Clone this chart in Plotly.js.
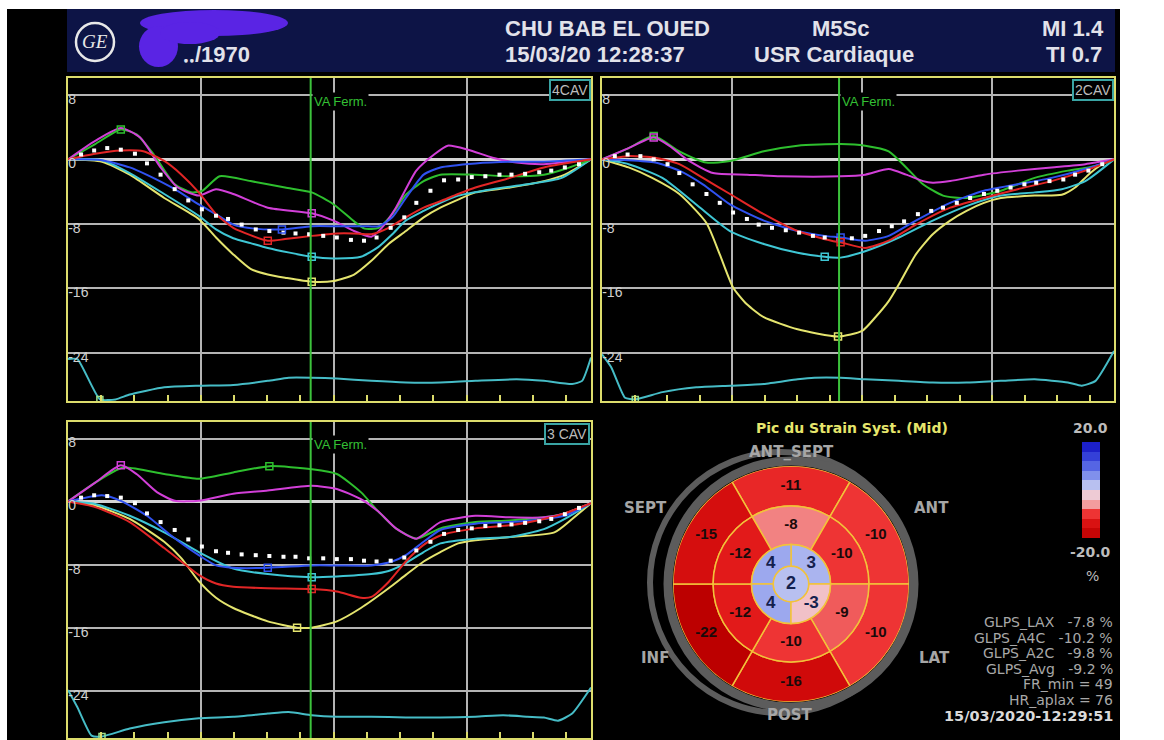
<!DOCTYPE html>
<html><head><meta charset="utf-8">
<script src="https://cdn.plot.ly/plotly-3.0.1.min.js"></script>
<style>html,body{margin:0;padding:0;background:#fff;}#chart{width:1164px;height:740px;}</style>
</head><body><div id="chart"></div>
<script>
// ---------------- DATA ----------------
// time axis in % of the cardiac cycle, strain in %
const segmentNames = ['yellow','cyan','green','magenta','blue','red'];

// 4 CAV
const a4c_yellow = [[0,0],[6.5,-0.3],[11.8,-1.9],[18.4,-4.8],[25,-7.4],[28.3,-9.7],[31.6,-11.8],[34.9,-13.6],[38.2,-14.3],[41.5,-14.7],[46.6,-15.2],[50.8,-15.1],[54.7,-14.3],[58,-12.6],[61.3,-10.5],[64.6,-8.9],[68,-7.2],[71.2,-6],[74.6,-5],[77.9,-4.1],[84.5,-3.5],[91,-2.7],[95,-1.9],[100,0]];
const a4c_cyan = [[0,0],[6.5,-0.1],[11.8,-1.7],[18.4,-4.3],[25,-7],[28.3,-8.7],[31.6,-9.8],[34.9,-10.4],[38.2,-11],[46.6,-12.1],[50.8,-12.3],[56,-12.1],[59.3,-10.9],[62,-9.3],[64.6,-7.6],[68,-6.4],[71.2,-5.4],[74.6,-4.5],[81.2,-3.7],[87.8,-3.1],[94.4,-2.3],[100,0]];
const a4c_green = [[0,0],[5.2,1.9],[10.1,3.7],[13.1,3.1],[16.4,0.6],[20.4,-3.1],[23.7,-4.1],[25.7,-3.9],[29,-2.1],[34.9,-2.7],[41.5,-3.5],[46.6,-4.1],[50.8,-5.6],[54.7,-7.7],[56.7,-8.6],[59.4,-8.5],[62,-6.8],[64.6,-4.4],[68,-2.7],[71.2,-1.9],[77.9,-1.9],[84.5,-2.1],[91,-1.9],[95,-1.2],[100,0]];
const a4c_magenta = [[0,0],[5.2,2.3],[10.1,3.9],[13.8,2.7],[17.7,-1],[21,-3.5],[25,-4.5],[28.3,-3.7],[31.6,-4.3],[38.2,-6],[46.6,-6.7],[50.8,-7.6],[54.7,-8.9],[58,-9.6],[60,-8.5],[62.7,-6],[66.6,-1.4],[70,0.6],[72.6,1.7],[76.5,1.2],[81.2,0.2],[85.8,-0.4],[91,-0.6],[100,0]];
const a4c_blue = [[0,0],[6.5,-0.1],[11.8,-1],[15,-1.9],[20.4,-3.7],[25,-5.6],[28.3,-6.8],[31.6,-8.1],[35.6,-8.6],[40.9,-8.7],[46.6,-8.3],[51.4,-8.3],[56.7,-8.3],[59.4,-8.3],[62,-7.2],[64.6,-4.8],[68,-1.9],[71.2,-1],[77.9,-0.5],[84.5,-0.3],[91,-0.3],[100,0]];
const a4c_red = [[0,0],[5.2,0.7],[10.1,1.1],[14.4,1],[18.4,-0.2],[21.7,-1.9],[25,-4.1],[28.3,-6.8],[31.6,-8.5],[38.2,-10.1],[41.5,-9.9],[46.6,-9.5],[51.4,-9.2],[54.7,-9.2],[58,-9.3],[61.3,-8.5],[64.6,-7.2],[68,-6],[71.2,-5.2],[74.6,-4.3],[77.9,-3.5],[84.5,-2.3],[91,-1],[100,0]];
const a4c_trace = [[0,-24.8],[1.8,-24.8],[6.1,-29.8],[9.1,-29.8],[11.8,-29.2],[18.4,-28.3],[25,-28.1],[31.6,-28],[38.2,-27.5],[42.2,-27.1],[46.6,-27.1],[51.4,-27.2],[58,-27.5],[64.6,-27.7],[71.2,-27.7],[77.9,-27.5],[85.8,-27.3],[91,-27.5],[96.4,-27.9],[98.3,-27.5],[100,-24.6]];
const a4c_avg = [0.6,1.1,1.4,1.2,0.7,-0.5,-1.9,-3.7,-5.1,-6.2,-7,-7.4,-8.1,-8.7,-8.9,-9.1,-9.2,-9.3,-9.5,-9.7,-10,-10.1,-9.7,-8.5,-7.2,-5.4,-3.9,-2.6,-2.5,-2.2,-2.1,-1.9,-1.9,-1.8,-1.6,-1.4,-1.0,-0.6];
const a4c_peakX = [46.6,46.6,10.1,46.6,40.9,38.2];
const a4c_peakY = [-15.2,-12.1,3.7,-6.7,-8.7,-10.1];

// 2 CAV
const a2c_yellow = [[0,0],[5.2,-1],[9.8,-2.3],[15.1,-4.3],[20.4,-7.9],[23,-11.8],[25.6,-15.9],[28.3,-18],[31.6,-19.6],[38.2,-21.1],[46.1,-22],[50.8,-21.3],[53.4,-19.6],[56,-17.6],[58,-15.5],[61.3,-11.8],[64.6,-9.3],[68,-7.6],[71.2,-6.4],[74.6,-5.4],[77.9,-4.8],[84.5,-4.5],[89.8,-4.4],[92.4,-3.5],[95,-1.9],[97.7,-0.6],[100,0]];
const a2c_cyan = [[0,0],[5.2,-0.6],[11.8,-2.3],[18.4,-5.6],[25,-8.9],[31.6,-10.5],[38.2,-11.6],[43.5,-12.1],[46.6,-12.2],[51.4,-11.4],[58,-9.7],[64.6,-7.6],[71.2,-5.8],[77.9,-4.5],[84.5,-4.1],[89.8,-3.7],[94.4,-2.7],[100,0]];
const a2c_green = [[0,0],[5.2,1.4],[10.1,2.9],[15.1,1],[20.4,-0.4],[25,-0.2],[31.6,1],[38.2,1.7],[46.6,1.9],[51.4,1.7],[56,1],[59.4,-1],[62.7,-3.1],[66.6,-4.5],[71.2,-4.8],[77.9,-3.9],[84.5,-2.3],[91,-1.4],[95,-1],[97.7,-0.6],[100,0]];
const a2c_magenta = [[0,0],[5.2,1.4],[10.1,2.7],[13.1,1.7],[17,-0.2],[21.7,-1.7],[28.3,-1.9],[34.9,-2.1],[46.6,-2.1],[51.4,-1.9],[56,-1.2],[59.4,-1.9],[62.7,-2.7],[64.6,-2.9],[68,-2.7],[74.6,-1.9],[81.2,-1.4],[87.8,-1],[94.4,-0.6],[100,0]];
const a2c_blue = [[0,0],[5.2,-0.1],[10.4,-0.4],[15.1,-1.4],[19.7,-3.1],[25,-5.6],[31.6,-7.6],[38.2,-8.9],[43.5,-9.5],[46.6,-9.7],[51.4,-10.1],[56,-9.5],[61.3,-7.6],[68,-5.4],[74.6,-3.9],[81.2,-3.1],[87.8,-2.3],[94.4,-1.2],[100,0]];
const a2c_red = [[0,0],[5.2,0.4],[10.4,0.2],[15.1,-0.6],[19.7,-2.3],[25,-4.3],[31.6,-6.8],[38.2,-8.9],[44.8,-10.1],[46.6,-10.3],[51.4,-11],[56,-10.1],[61.3,-8.1],[68,-6],[74.6,-4.8],[81.2,-3.7],[87.8,-2.7],[94.4,-1.4],[100,0]];
const a2c_trace = [[0,-24.2],[1.8,-25.8],[4.5,-29.6],[6.5,-29.8],[11.8,-28.9],[18.4,-28.3],[25,-28.1],[31.6,-27.9],[38.2,-27.3],[41.5,-27.1],[46.6,-27.1],[51.4,-27.3],[58,-27.5],[64.6,-27.7],[71.2,-27.7],[77.9,-27.5],[84.5,-27.3],[91,-27.7],[93.7,-28.1],[96.4,-27.5],[100,-23.8]];
const a2c_avg = [0.4,0.6,0.4,0,-0.6,-1.7,-3.1,-4.3,-5.4,-6.6,-7.4,-8.1,-8.5,-8.8,-9.1,-9.5,-9.7,-9.9,-9.8,-9.5,-8.9,-8.3,-7.7,-6.8,-6.4,-6,-5.4,-4.8,-4.3,-3.9,-3.5,-3.1,-2.9,-2.7,-2.5,-1.9,-1.4,-0.6];
const a2c_peakX = [46.1,43.5,10.1,10.1,46.6,46.6];
const a2c_peakY = [-22,-12.1,2.9,2.7,-9.7,-10.3];

// 3 CAV
const a3c_yellow = [[0,0],[5.2,-0.5],[11.8,-2.2],[18.4,-5.1],[21.7,-7.2],[25,-10.1],[28.3,-12.2],[31.6,-13.5],[38.2,-15.2],[43.8,-16],[46.6,-16],[51.4,-15.2],[56,-13.5],[61.3,-11],[64.6,-9.3],[68,-7.6],[71.2,-6.4],[74.6,-5.3],[77.9,-4.9],[84.5,-4.5],[93,-3.9],[96.4,-2.2],[100,-0.2]];
const a3c_cyan = [[0,0],[5.2,-0.3],[11.8,-1.8],[18.4,-3.9],[25,-6.4],[31.6,-8.5],[38.2,-9.2],[46.6,-9.6],[51.4,-9.5],[58,-9.2],[61.3,-8.8],[64.6,-7.8],[68,-6.4],[71.2,-5.3],[77.9,-4.7],[84.5,-4.5],[91,-3.5],[95,-2.2],[100,-0.2]];
const a3c_green = [[0,0],[5.2,2.4],[10.4,4.3],[18.4,3.5],[25,2.9],[31.6,3.7],[38.5,4.5],[46.6,4.1],[51.4,3.5],[56,1.2],[59.4,-1.3],[62.7,-3.4],[66.6,-4.7],[71.2,-3.4],[77.9,-2.6],[84.5,-2.4],[91,-2],[95,-1.5],[100,-0.2]];
const a3c_magenta = [[0,0],[5.2,2.4],[10.1,4.6],[13.1,3.5],[17,1.2],[20.4,0.1],[25,0.1],[31.6,1],[38.2,1.4],[46.6,2],[51.4,1.6],[56,0.3],[59.4,-1.3],[62.7,-3.4],[66.6,-4.7],[71.2,-2.6],[77.9,-1.8],[84.5,-2],[91,-2],[95,-1.5],[100,-0.2]];
const a3c_blue = [[0,0],[6.5,0.8],[10.1,0.1],[15.1,-1.8],[19.7,-4.3],[25,-6.8],[28.3,-8.1],[31.6,-8.4],[38.2,-8.4],[46.6,-8.1],[51.4,-8.1],[58,-8.1],[62,-7.6],[64.6,-6.8],[68,-5.1],[71.2,-3.6],[77.9,-2.8],[84.5,-2.6],[91,-2.2],[95,-1.8],[100,-0.2]];
const a3c_red = [[0,0],[5.2,-0.7],[11.8,-2.6],[18.4,-5.9],[25,-9.3],[28.3,-10.4],[31.6,-10.8],[38.2,-11],[46.6,-11.1],[51.4,-11.4],[56,-12.2],[58,-12.1],[61.3,-10.2],[64.6,-7.6],[68,-5.5],[71.2,-4.3],[77.9,-3.4],[84.5,-3],[91,-2.2],[95,-1.5],[100,-0.2]];
const a3c_trace = [[0,-23.9],[1.8,-26.1],[4.5,-29.7],[6.5,-29.8],[11.8,-28.8],[18.4,-28],[25,-27.5],[31.6,-27.3],[38.2,-26.9],[42.2,-26.7],[46.6,-27.1],[51.4,-27.3],[58,-27.3],[64.6,-27.4],[71.2,-27.4],[77.9,-27.3],[83.2,-27.1],[87.8,-27.3],[91,-27.4],[93.7,-27.8],[96.4,-26.9],[100,-23.6]];
const a3c_avg = [0.5,0.8,0.7,0.5,-0.2,-1.5,-2.6,-3.6,-4.8,-5.7,-6.3,-6.5,-6.7,-6.8,-6.9,-7,-7,-7.2,-7.2,-7.3,-7.3,-7.5,-7.6,-7.5,-7.1,-6.2,-5.1,-4.1,-3.6,-3.4,-3.1,-3,-2.9,-2.7,-2.5,-2.2,-1.6,-0.8];
const a3c_peakX = [43.8,46.6,38.5,10.1,38.2,46.6];
const a3c_peakY = [-16,-9.6,4.5,4.6,-8.4,-11.1];

const avgX = [2.5,5,7.5,10.1,12.8,15.1,17.7,20.4,23,25.6,28.3,30.6,33.2,35.9,38.5,41.2,43.5,46.1,48.8,51.4,54.1,56.6,59,61.7,64.3,66.6,69.3,71.9,74.6,77.2,79.8,82.5,84.8,87.4,90.1,92.4,95,97.7];
const traceMinX = [6.1,6.5,6.5];
const traceMinY = [-29.8,-29.8,-29.8];
const vaFermeture = [46.4,46.3,46.4];
const strainTickVals = [-24,-16,-8,0,8];
const strainTickText = ['-24','-16','-8','0','8'];
const viewNames = ['4CAV','2CAV','3 CAV'];

// Bull's eye (peak systolic strain, %)
const sixTheta = [90,30,330,270,210,150];   // ANT_SEPT, ANT, LAT, POST, INF, SEPT
const basalStrain = [-11,-10,-10,-16,-22,-15];
const midStrain = [-8,-10,-9,-10,-12,-12];
const apicalTheta = [45,135,225,315];
const apicalStrain = [3,4,4,-3];
const apexStrain = [2];
const ringEdges = [0,0.15,0.335,0.66,1];
const scaleSteps = [-18,-14,-10,-6,-2,2,6,10,14,18];

const glpsLabels = ['GLPS_LAX','GLPS_A4C','GLPS_A2C','GLPS_Avg'];
const glpsValues = [-7.8,-10.2,-9.8,-9.2];
const frMin = 49, hrAplax = 76;

// ---------------- STYLE ----------------
const W=1164,H=740;
const PX=x=>x/W, PY=y=>1-y/H;
const segColors = ['#e4e46e','#3fc6d4','#2ebf2e','#d23fd8','#3052f0','#e22626'];
const YEL='#dcdc6c', GRID='#b4b4b4';
const SANS='Liberation Sans, Arial, sans-serif';
const STRAIN_SCALE=[[0,'#bc0000'],[0.1,'#d00a0a'],[0.2,'#e21a1a'],[0.25,'#ee3434'],[0.3,'#f28282'],[0.4,'#f4b6ba'],[0.5,'#e8e0f0'],[0.55,'#b8c0f0'],[0.65,'#8090ec'],[0.8,'#4050e0'],[1,'#1010c0']];

const traces=[];
function panel(series, trace, avgY, peakX, peakY, k, xa, ya){
  traces.push({type:'scatter',mode:'lines',x:trace.map(p=>p[0]),y:trace.map(p=>p[1]),xaxis:xa,yaxis:ya,
    line:{color:'#46bcc6',width:2,shape:'spline',smoothing:0.5},hoverinfo:'skip'});
  traces.push({type:'scatter',mode:'markers',x:[traceMinX[k]],y:[traceMinY[k]],xaxis:xa,yaxis:ya,
    marker:{symbol:'square-open',size:6,color:'#9be08a',line:{width:1.5}},hoverinfo:'skip'});
  series.forEach((s,i)=>traces.push({type:'scatter',mode:'lines',name:segmentNames[i],x:s.map(p=>p[0]),y:s.map(p=>p[1]),
    xaxis:xa,yaxis:ya,line:{color:segColors[i],width:2,shape:'spline',smoothing:0.6},hoverinfo:'skip'}));
  traces.push({type:'scatter',mode:'markers',x:avgX,y:avgY,xaxis:xa,yaxis:ya,
    marker:{symbol:'square',size:4,color:'#ffffff'},hoverinfo:'skip'});
  traces.push({type:'scatter',mode:'markers',x:peakX,y:peakY,xaxis:xa,yaxis:ya,
    marker:{symbol:'square-open',size:7,color:segColors,line:{width:1.5}},hoverinfo:'skip'});
}
panel([a4c_yellow,a4c_cyan,a4c_green,a4c_magenta,a4c_blue,a4c_red],a4c_trace,a4c_avg,a4c_peakX,a4c_peakY,0,'x','y');
panel([a2c_yellow,a2c_cyan,a2c_green,a2c_magenta,a2c_blue,a2c_red],a2c_trace,a2c_avg,a2c_peakX,a2c_peakY,1,'x2','y2');
panel([a3c_yellow,a3c_cyan,a3c_green,a3c_magenta,a3c_blue,a3c_red],a3c_trace,a3c_avg,a3c_peakX,a3c_peakY,2,'x3','y3');

// bull's eye rings
const segLine={color:'#f2c23a',width:1.5};
function ring(theta, vals, inner, outer, w){
  traces.push({type:'barpolar',subplot:'polar',theta:theta,base:theta.map(()=>inner),r:theta.map(()=>outer-inner),
    width:theta.map(()=>w),marker:{color:vals,colorscale:STRAIN_SCALE,cmin:-20,cmax:20,line:segLine},hoverinfo:'skip'});
}
ring(sixTheta,basalStrain,ringEdges[3],ringEdges[4],60);
ring(sixTheta,midStrain,ringEdges[2],ringEdges[3],60);
ring(apicalTheta,apicalStrain,ringEdges[1],ringEdges[2],90);
ring([0],apexStrain,ringEdges[0],ringEdges[1],360);
function ringText(theta, vals, inner, outer, color, size){
  traces.push({type:'scatterpolar',subplot:'polar',mode:'text',theta:theta,r:theta.map(()=>(inner+outer)/2),
    text:vals.map(String),textfont:{color:color,size:size,family:SANS,weight:'bold'},hoverinfo:'skip'});
}
ringText(sixTheta,basalStrain,ringEdges[3],ringEdges[4],'#1a0a0a',15);
ringText(sixTheta,midStrain,ringEdges[2],ringEdges[3],'#1a0a0a',15);
ringText(apicalTheta,apicalStrain,ringEdges[1],ringEdges[2],'#14204e',17);
traces.push({type:'scatterpolar',subplot:'polar',mode:'text',theta:[0],r:[0],text:apexStrain.map(String),
  textfont:{color:'#14204e',size:18,family:SANS,weight:'bold'},hoverinfo:'skip'});

// colour scale bar
traces.push({type:'heatmap',x:[0],y:scaleSteps.map((v,i)=>i),z:scaleSteps.map(v=>[v]),xaxis:'x4',yaxis:'y4',
  colorscale:STRAIN_SCALE,zmin:-20,zmax:20,showscale:false,hoverinfo:'skip'});

// ---------------- LAYOUT ----------------
function xAx(x0,x1,anchor){return {domain:[PX(x0),PX(x1)],anchor:anchor,range:[0,100],showline:true,linecolor:YEL,linewidth:2,mirror:true,
  tickmode:'array',tickvals:[25.4,50.8,76.2],ticks:'inside',ticklen:6,tickwidth:2,tickcolor:YEL,showticklabels:false,
  showgrid:true,gridcolor:GRID,gridwidth:2,zeroline:false,fixedrange:true,
  minor:{tickmode:'linear',tick0:0,dtick:6.35,ticks:'inside',ticklen:6,tickwidth:2,tickcolor:YEL,showgrid:false}};}
function yAx(y0,y1,anchor){return {domain:[PY(y1),PY(y0)],anchor:anchor,range:[-30,10.1],showline:true,linecolor:YEL,linewidth:2,mirror:true,
  tickmode:'array',tickvals:strainTickVals,ticktext:strainTickText,ticks:'',ticklabelposition:'inside',ticklabelshift:4,
  tickfont:{color:'#d0d0d0',size:14,family:SANS},showgrid:true,gridcolor:GRID,gridwidth:2,
  zeroline:true,zerolinecolor:'#d4d4d4',zerolinewidth:3,fixedrange:true};}

const shapes=[
  {type:'rect',xref:'paper',yref:'paper',x0:PX(7),x1:PX(1120),y0:0,y1:PY(9),fillcolor:'#000',line:{width:0},layer:'below'},
  {type:'rect',xref:'paper',yref:'paper',x0:PX(67),x1:PX(1115),y0:PY(72),y1:PY(9),fillcolor:'#0d1446',line:{width:0},layer:'below'},
  {type:'circle',xref:'paper',yref:'paper',x0:PX(76),x1:PX(114),y0:PY(61),y1:PY(23),line:{color:'#e8e8e8',width:2.5}},
  {type:'circle',xref:'paper',yref:'paper',x0:PX(140),x1:PX(288),y0:PY(36),y1:PY(10),fillcolor:'#5a24e4',line:{width:0}},
  {type:'circle',xref:'paper',yref:'paper',x0:PX(139),x1:PX(178),y0:PY(67),y1:PY(26),fillcolor:'#5a24e4',line:{width:0}},
  {type:'circle',xref:'paper',yref:'paper',x0:PX(160),x1:PX(220),y0:PY(44),y1:PY(22),fillcolor:'#5a24e4',line:{width:0}},
  // grey rim of the bull's eye
  {type:'circle',xref:'paper',yref:'paper',x0:PX(650),x1:PX(912),y0:PY(713),y1:PY(452),line:{color:'#5c5c5c',width:6},layer:'below'},
  {type:'circle',xref:'paper',yref:'paper',x0:PX(668),x1:PX(914),y0:PY(707),y1:PY(461),line:{color:'#5c5c5c',width:9},layer:'below'}
];
[['x','y'],['x2','y2'],['x3','y3']].forEach(([xa,ya],k)=>{
  shapes.push({type:'line',xref:xa,yref:ya+' domain',x0:vaFermeture[k],x1:vaFermeture[k],y0:0,y1:1,
    line:{color:'#3cc23c',width:2}});
});

const annotations=[];
function ann(x,y,text,o){annotations.push(Object.assign({xref:'paper',yref:'paper',x:PX(x),y:PY(y),text:text,showarrow:false,
  xanchor:'left',yanchor:'middle'},o||{}));}
const hdr={font:{color:'#e2e2ea',size:22,family:SANS,weight:'bold'}};
ann(503,28,'CHU BAB EL OUED',hdr);
ann(503,54,'15/03/20 12:28:37',hdr);
ann(810,28,'M5Sc',hdr);
ann(752,54,'USR Cardiaque',hdr);
ann(1106,28,'MI 1.4',Object.assign({xanchor:'right'},hdr));
ann(1104,54,'TI 0.7',Object.assign({xanchor:'right'},hdr));
ann(252,54,'‥/1970',Object.assign({xanchor:'right'},hdr));
ann(95,42,'<i>GE</i>',{xanchor:'center',font:{color:'#e8e8e8',size:19,family:'Liberation Serif, serif'}});

// panel labels
[[591,79],[1114,79],[590,423]].forEach((p,i)=>ann(p[0],p[1],viewNames[i],{xanchor:'right',yanchor:'top',
  bgcolor:'#000',bordercolor:'#3aa4a4',borderwidth:2,borderpad:1,font:{color:'#bcbcbc',size:14,family:SANS}}));
// valve closure labels
[['x',101],['x2',101],['x3',444]].forEach(([xa,y],k)=>annotations.push({xref:xa,yref:'paper',x:vaFermeture[k],y:PY(y),
  text:'VA Ferm.',showarrow:false,xanchor:'left',yanchor:'middle',xshift:1,bgcolor:'#000',
  font:{color:'#34c034',size:13,family:SANS}}));

// bull's eye labels
const lab={xanchor:'center',font:{color:'#a6a6a6',size:15,family:'DejaVu Sans',weight:'bold'}};
ann(791,452,'ANT_SEPT',lab); ann(645,508,'SEPT',lab); ann(931,508,'ANT',lab);
ann(655,658,'INF',lab); ann(934,658,'LAT',lab); ann(790,715,'POST',lab);
ann(852,428,'Pic du Strain Syst. (Mid)',{xanchor:'center',font:{color:'#e6e66c',size:14,family:'DejaVu Sans',weight:'bold'}});
const cb={xanchor:'center',font:{color:'#bcbcbc',size:14,family:'DejaVu Sans',weight:'bold'}};
ann(1090,428,'20.0',cb); ann(1090,552,'-20.0',cb); ann(1092,576,'%',{xanchor:'center',font:{color:'#bcbcbc',size:14,family:'DejaVu Sans'}});
const gl={xanchor:'right',font:{color:'#a8a8a8',size:14,family:'DejaVu Sans'}};
glpsLabels.forEach((l,i)=>ann(1115,622+i*15.5,l+'\u00a0\u00a0\u00a0'+glpsValues[i].toFixed(1)+'\u00a0%',gl));
ann(1115,684,'FR_min = '+frMin,gl);
ann(1115,700,'HR_aplax = '+hrAplax,gl);
ann(1115,716,'15/03/2020-12:29:51',{xanchor:'right',font:{color:'#dadada',size:14.5,family:'DejaVu Sans',weight:'bold'}});

const layout={width:W,height:H,margin:{l:0,r:0,t:0,b:0},paper_bgcolor:'#ffffff',plot_bgcolor:'#000000',showlegend:false,
  xaxis:xAx(68,591,'y'),yaxis:yAx(78,401,'x'),
  xaxis2:xAx(602,1114,'y2'),yaxis2:yAx(78,401,'x2'),
  xaxis3:xAx(68,591,'y3'),yaxis3:yAx(422,738,'x3'),
  xaxis4:{domain:[PX(1082),PX(1100)],anchor:'y4',visible:false,fixedrange:true},
  yaxis4:{domain:[PY(538),PY(442)],anchor:'x4',visible:false,fixedrange:true},
  polar:{domain:{x:[PX(673),PX(909)],y:[PY(702),PY(466)]},bgcolor:'rgba(0,0,0,0)',barmode:'overlay',
    radialaxis:{visible:false,range:[0,1]},angularaxis:{visible:false,rotation:0,direction:'counterclockwise'}},
  shapes:shapes,annotations:annotations};
Plotly.newPlot('chart',traces,layout,{staticPlot:true,displayModeBar:false});
</script></body></html>
